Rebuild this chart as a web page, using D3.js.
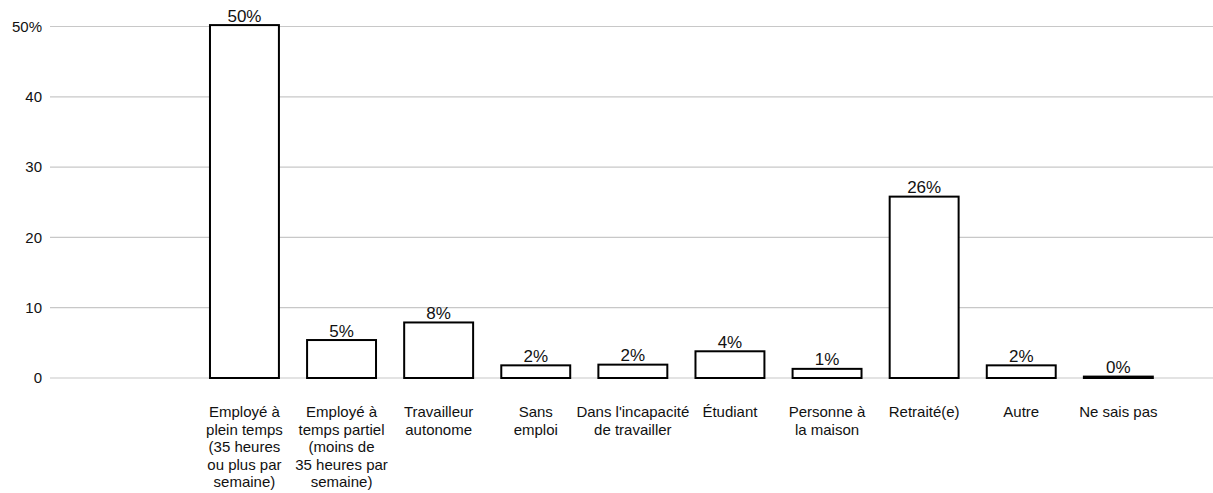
<!DOCTYPE html>
<html>
<head>
<meta charset="utf-8">
<script src="https://cdn.jsdelivr.net/npm/d3@7"></script>
<style>
  body { margin: 0; background: #fff; }
  svg { font-family: "Liberation Sans", Arial, sans-serif; }
  .grid line { stroke: #c8c8c8; stroke-width: 1.2; }
  .bar { fill: #fff; stroke: #000; stroke-width: 2; }
  .value { font-size: 17px; fill: #111; text-anchor: middle; }
  .tick-label { font-size: 15px; fill: #111; text-anchor: end; }
  .cat { font-size: 15px; fill: #111; text-anchor: middle; }
</style>
</head>
<body>
<svg width="1213" height="493"></svg>
<script>
// categories, split into the lines shown under each bar
const categories = [
  "Employé à plein temps",
  "Employé à temps partiel",
  "Travailleur autonome",
  "Sans emploi",
  "Dans l'incapacité de travailler",
  "Étudiant",
  "Personne à la maison",
  "Retraité(e)",
  "Autre",
  "Ne sais pas"
];
const categoryLines = [
  ["Employé à", "plein temps", "(35 heures", "ou plus par", "semaine)"],
  ["Employé à", "temps partiel", "(moins de", "35 heures par", "semaine)"],
  ["Travailleur", "autonome"],
  ["Sans", "emploi"],
  ["Dans l'incapacité", "de travailler"],
  ["Étudiant"],
  ["Personne à", "la maison"],
  ["Retraité(e)"],
  ["Autre"],
  ["Ne sais pas"]
];
const values = [50.2, 5.4, 7.9, 1.8, 1.9, 3.8, 1.3, 25.8, 1.8, 0.2];
const yTicks = [0, 10, 20, 30, 40, 50];

const svg = d3.select("svg");

const x = d3.scaleBand()
  .domain(categories)
  .range([195.9, 1166.9])
  .paddingInner(0.29)
  .paddingOuter(0.145);

const y = d3.scaleLinear()
  .domain([0, 50])
  .range([378, 26.5]);

// gridlines
svg.append("g")
  .attr("class", "grid")
  .selectAll("line")
  .data(yTicks)
  .enter().append("line")
  .attr("x1", 50)
  .attr("x2", 1213)
  .attr("y1", d => y(d))
  .attr("y2", d => y(d));

// y tick labels
svg.append("g")
  .selectAll("text")
  .data(yTicks)
  .enter().append("text")
  .attr("class", "tick-label")
  .attr("x", 42)
  .attr("y", d => y(d))
  .attr("dy", "0.35em")
  .text(d => d === 50 ? "50%" : d);

// bars
svg.append("g")
  .selectAll("rect")
  .data(values)
  .enter().append("rect")
  .attr("class", "bar")
  .attr("x", (d, i) => x(categories[i]))
  .attr("width", x.bandwidth())
  .attr("y", d => y(d))
  .attr("height", d => y(0) - y(d));

// value labels
svg.append("g")
  .selectAll("text")
  .data(values)
  .enter().append("text")
  .attr("class", "value")
  .attr("x", (d, i) => x(categories[i]) + x.bandwidth() / 2)
  .attr("y", d => y(d) - 3.5)
  .text(d => Math.round(d) + "%");

// category labels
const cat = svg.append("g")
  .selectAll("text")
  .data(categoryLines)
  .enter().append("text")
  .attr("class", "cat")
  .attr("x", (d, i) => x(categories[i]) + x.bandwidth() / 2)
  .attr("y", 417);

cat.selectAll("tspan")
  .data(d => d)
  .enter().append("tspan")
  .attr("x", function() { return d3.select(this.parentNode).attr("x"); })
  .attr("dy", (d, i) => i === 0 ? 0 : 17.5)
  .text(d => d);
</script>
</body>
</html>
